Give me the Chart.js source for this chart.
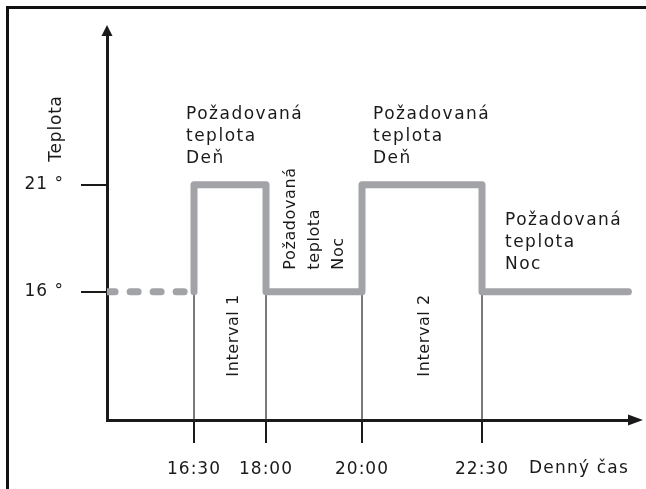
<!DOCTYPE html>
<html>
<head>
<meta charset="utf-8">
<script src="https://cdn.jsdelivr.net/npm/chart.js@4.4.0/dist/chart.umd.min.js"></script>
<style>
  html, body { margin: 0; padding: 0; background: #fff; overflow: hidden; }
  canvas { display: block; }
</style>
</head>
<body>
<canvas id="graf" width="646" height="489"></canvas>
<script>
// casy prepinania v hodinach (25.x = po polnoci)
const casy = [16.5, 18, 20, 22.5, 25.55];
const teploty = [16, 21, 16, 21, 16];
// prerusovany usek pred prvym intervalom
const zaciatokCasy = [14.69, 16.5];
const zaciatokTeploty = [16, 16];

const casyTicky = [16.5, 18, 20, 22.5];
const casyPopisky = ["16:30", "18:00", "20:00", "22:30"];
const teplotyTicky = [16, 21];
const teplotyPopisky = ["16 °", "21 °"];

const nazovX = "Denný čas";
const nazovY = "Teplota";
const textDen = ["Požadovaná", "teplota", "Deň"];
const textNoc = ["Požadovaná", "teplota", "Noc"];
const intervaly = ["Interval 1", "Interval 2"];

const sediva = "#a2a3a6";
const cierna = "#1a1a1a";
const pismo = "'DejaVu Sans', sans-serif";

// tenke zvisle ciary od teploty 16 po os x
const zvisle = casyTicky.map(t => ({
    data: [{ x: t, y: 16 }, { x: t, y: 10 }],
    borderColor: "#333",
    borderWidth: 1.3,
    pointRadius: 0,
    order: 5,
}));

function riadky(ctx, lines, x, y, krok) {
    lines.forEach((l, i) => ctx.fillText(l, x, y + i * krok));
}

function zvislyText(ctx, lines, x, y, krok) {
    ctx.save();
    ctx.translate(x, y);
    ctx.rotate(-Math.PI / 2);
    lines.forEach((l, i) => ctx.fillText(l, 0, i * krok));
    ctx.restore();
}

const popisky = {
    id: "popisky",
    beforeDraw(chart) {
        const ctx = chart.ctx;
        ctx.letterSpacing = "1px";
        // ramik hore a vlavo
        ctx.save();
        ctx.fillStyle = "#111";
        ctx.fillRect(6, 6, chart.width - 6, 3);
        ctx.fillRect(6, 6, 3, chart.height - 6);
        ctx.restore();
    },
    afterDraw(chart) {
        const { ctx, chartArea: a, scales: { x, y } } = chart;
        ctx.save();
        ctx.fillStyle = cierna;

        // sipky na koncoch osi
        ctx.beginPath();
        ctx.moveTo(a.left, a.top - 10);
        ctx.lineTo(a.left - 5.5, a.top + 1);
        ctx.lineTo(a.left + 5.5, a.top + 1);
        ctx.fill();
        ctx.beginPath();
        ctx.moveTo(a.right + 11, a.bottom);
        ctx.lineTo(a.right - 4, a.bottom - 5.5);
        ctx.lineTo(a.right - 4, a.bottom + 5.5);
        ctx.fill();

        ctx.textBaseline = "alphabetic";
        ctx.textAlign = "left";
        ctx.font = "17px " + pismo;
        ctx.letterSpacing = "1.5px";

        const y21 = y.getPixelForValue(21);
        const y16 = y.getPixelForValue(16);
        riadky(ctx, textDen, x.getPixelForValue(16.5) - 8, y21 - 66, 22);
        riadky(ctx, textDen, x.getPixelForValue(20) + 11, y21 - 66, 22);
        riadky(ctx, textNoc, x.getPixelForValue(22.5) + 23, y16 - 67, 22);
        ctx.letterSpacing = "1.2px";
        ctx.fillText(nazovX, x.getPixelForValue(22.5) + 47, a.bottom + 53);

        ctx.font = "16px " + pismo;
        ctx.letterSpacing = "0.6px";
        zvislyText(ctx, textNoc, x.getPixelForValue(18) + 29, y16 - 22, 24);
        zvislyText(ctx, [intervaly[0]], x.getPixelForValue(16.5) + 44, y16 + 85, 0);
        zvislyText(ctx, [intervaly[1]], x.getPixelForValue(20) + 67, y16 + 85, 0);
        ctx.font = "17px " + pismo;
        ctx.letterSpacing = "0.8px";
        zvislyText(ctx, [nazovY], a.left - 46, y21 - 23, 0);
        ctx.restore();
    }
};

new Chart(document.getElementById("graf"), {
    type: "line",
    data: {
        datasets: [
            {
                data: casy.map((t, i) => ({ x: t, y: teploty[i] })),
                stepped: "after",
                borderColor: sediva,
                borderWidth: 7,
                borderJoinStyle: "round",
                borderCapStyle: "round",
                pointRadius: 0,
                order: 0,
            },
            {
                data: zaciatokCasy.map((t, i) => ({ x: t, y: zaciatokTeploty[i] })),
                borderColor: sediva,
                borderWidth: 7,
                borderDash: [8, 15],
                borderCapStyle: "round",
                pointRadius: 0,
                order: 1,
            },
            ...zvisle,
        ],
    },
    options: {
        responsive: false,
        animation: false,
        devicePixelRatio: 1,
        layout: { padding: { left: 0, top: 35, right: 14, bottom: 0 } },
        plugins: {
            legend: { display: false },
            tooltip: { enabled: false },
        },
        scales: {
            x: {
                type: "linear",
                min: 14.6875,
                max: 25.625,
                afterFit: s => { s.height = 69; },
                afterBuildTicks: s => { s.ticks = casyTicky.map(v => ({ value: v })); },
                border: { display: true, color: cierna, width: 3 },
                grid: { drawOnChartArea: false, drawTicks: true, tickLength: 23, color: cierna, lineWidth: 2 },
                ticks: {
                    autoSkip: false,
                    maxRotation: 0,
                    padding: 16,
                    color: cierna,
                    font: { family: pismo, size: 17 },
                    callback: (v, i) => casyPopisky[i],
                },
            },
            y: {
                type: "linear",
                min: 10,
                max: 28,
                afterFit: s => { s.width = 107; },
                afterBuildTicks: s => { s.ticks = teplotyTicky.map(v => ({ value: v })); },
                border: { display: true, color: cierna, width: 3 },
                grid: { drawOnChartArea: false, drawTicks: true, tickLength: 26, color: cierna, lineWidth: 2 },
                ticks: {
                    padding: 17,
                    color: cierna,
                    font: { family: pismo, size: 17 },
                    callback: (v, i) => teplotyPopisky[i],
                },
            },
        },
    },
    plugins: [popisky],
});
</script>
</body>
</html>
